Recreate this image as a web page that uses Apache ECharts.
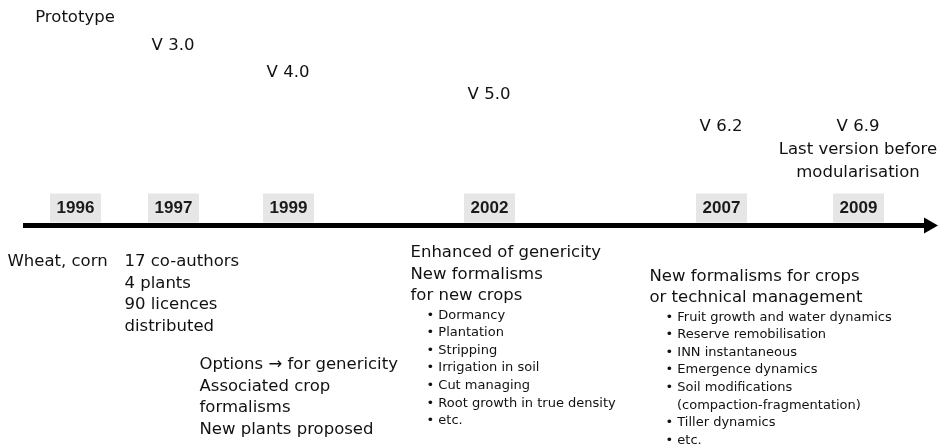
<!DOCTYPE html>
<html>
<head>
<meta charset="utf-8">
<script src="https://cdn.jsdelivr.net/npm/echarts@6/dist/echarts.min.js"></script>
<style>
  html, body { margin: 0; background: #fff; }
  #main { width: 948px; height: 448px; }
</style>
</head>
<body>
<div id="main"></div>
<script>
// data
const years = ['1996', '1997', '1999', '2002', '2007', '2009'];
const versions = ['Prototype', 'V 3.0', 'V 4.0', 'V 5.0', 'V 6.2', 'V 6.9\nLast version before\nmodularisation'];
const noteHeads = [
  ['Wheat, corn'],
  ['17 co-authors', '4 plants', '90 licences', 'distributed'],
  ['Options \u2192 for genericity', 'Associated crop', 'formalisms', 'New plants proposed'],
  ['Enhanced of genericity', 'New formalisms', 'for new crops'],
  ['New formalisms for crops', 'or technical management'],
  []
];
const noteBullets = [
  [], [], [],
  ['Dormancy', 'Plantation', 'Stripping', 'Irrigation in soil', 'Cut managing', 'Root growth in true density', 'etc.'],
  ['Fruit growth and water dynamics', 'Reserve remobilisation', 'INN instantaneous', 'Emergence dynamics',
   'Soil modifications\n(compaction-fragmentation)', 'Tiller dynamics', 'etc.'],
  []
];

// layout (x: px along the timeline, y: px above the line)
const timelineX = [75.5, 173.5, 288.5, 489.5, 721.5, 858.5];
const versionY = [207.5, 179.5, 152.5, 130.5, 98.5, 75.5];
const noteX = [8, 125, 200, 411, 650, null];
const noteY = [-26, -26, -129, -17, -40.5, null];

const font = 'DejaVu Sans';
const ink = '#111';

function noteText(i) {
  const parts = noteHeads[i].map(s => '{h|' + s + '}');
  noteBullets[i].forEach(b => {
    const lines = b.split('\n');
    parts.push('{ind| }{b|\u2022 ' + lines[0] + '}');
    lines.slice(1).forEach(r => parts.push('{ind2| }{b|' + r + '}'));
  });
  return parts.join('\n');
}

const chart = echarts.init(document.getElementById('main'));

const yearData = years.map((y, i) => ({ name: y, value: [timelineX[i], 17.5] }));
const versionData = versions.map((v, i) => ({ name: v, value: [timelineX[i], versionY[i]] }));
const noteData = [];
years.forEach((y, i) => {
  if (noteX[i] == null) return;
  noteData.push({ name: y, value: [noteX[i], noteY[i]], label: { formatter: noteText(i) } });
});

chart.setOption({
  animation: false,
  grid: { left: 23, right: 17, top: 0, bottom: 0, outerBoundsMode: 'none' },
  xAxis: {
    type: 'value', min: 23, max: 931,
    axisLine: {
      show: true, onZero: true,
      symbol: ['none', 'triangle'], symbolSize: [16, 14],
      lineStyle: { color: '#000', width: 5, cap: 'butt' }
    },
    axisTick: { show: false }, axisLabel: { show: false }, splitLine: { show: false }
  },
  yAxis: { type: 'value', min: -222.5, max: 225.5, show: false, splitLine: { show: false } },
  series: [
    {
      name: 'years', type: 'scatter', clip: false, silent: true,
      symbol: 'rect', symbolSize: [51, 29],
      itemStyle: { color: '#e6e6e6', opacity: 1 },
      label: {
        show: true, position: 'inside', formatter: '{b}',
        fontFamily: 'Liberation Sans', fontSize: 17, fontWeight: 'bold', color: '#1a1a1a', textBorderWidth: 0
      },
      data: yearData
    },
    {
      name: 'versions', type: 'scatter', clip: false, silent: true,
      symbolSize: 1, itemStyle: { color: 'rgba(0,0,0,0)', opacity: 1 },
      label: {
        show: true, position: [0, 0], formatter: '{b}',
        align: 'center', verticalAlign: 'middle',
        fontFamily: font, fontSize: 16.5, lineHeight: 23, color: ink
      },
      data: versionData
    },
    {
      name: 'notes', type: 'scatter', clip: false, silent: true,
      symbolSize: 1, itemStyle: { color: 'rgba(0,0,0,0)', opacity: 1 },
      label: {
        show: true, position: [0, 0], align: 'left', verticalAlign: 'top',
        fontFamily: font, color: ink,
        rich: {
          h: { fontFamily: font, fontSize: 16.5, lineHeight: 21.5, color: ink },
          b: { fontFamily: font, fontSize: 13, lineHeight: 17.6, color: ink },
          ind: { width: 16, fontSize: 13, lineHeight: 17.6 },
          ind2: { width: 27.5, fontSize: 13, lineHeight: 17.6 }
        }
      },
      data: noteData
    }
  ]
});
</script>
</body>
</html>
